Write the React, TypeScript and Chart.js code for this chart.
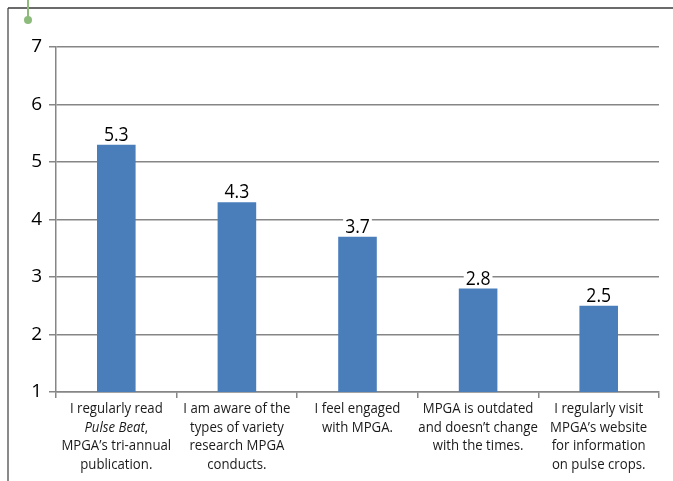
import React, { useEffect, useRef } from "react";
import { Chart, registerables } from "chart.js";

Chart.register(...registerables);

const categoryLines: string[][] = [
  ["I regularly read", "*Pulse Beat*,", "MPGA\u2019s tri-annual", "publication."],
  ["I am aware of the", "types of variety", "research MPGA", "conducts."],
  ["I feel engaged", "with MPGA."],
  ["MPGA is outdated", "and doesn\u2019t change", "with the times."],
  ["I regularly visit", "MPGA\u2019s website", "for information", "on pulse crops."],
];
const categories = ["Pulse Beat", "Variety research", "Engaged", "Outdated", "Website"];
const values = [5.3, 4.3, 3.7, 2.8, 2.5];
const yTicks = [1, 2, 3, 4, 5, 6, 7];

const FONT = "'Open Sans', 'Liberation Sans', sans-serif";
const SQUEEZE = 0.88;

const decorPlugin = {
  id: "decor",
  beforeDraw(chart: any) {
    const ctx = chart.ctx;
    ctx.save();
    ctx.strokeStyle = "#8a8a8a";
    ctx.lineWidth = 2;
    ctx.beginPath();
    ctx.moveTo(8, 8);
    ctx.lineTo(8, 481);
    ctx.stroke();
    ctx.strokeStyle = "#3a3a3a";
    ctx.lineWidth = 1.5;
    ctx.beginPath();
    ctx.moveTo(8, 8);
    ctx.lineTo(673, 8);
    ctx.stroke();
    ctx.strokeStyle = "#8dbb7c";
    ctx.lineWidth = 2;
    ctx.beginPath();
    ctx.moveTo(28, 0);
    ctx.lineTo(28, 17);
    ctx.stroke();
    ctx.fillStyle = "#8dbb7c";
    ctx.beginPath();
    ctx.arc(28, 20, 4, 0, Math.PI * 2);
    ctx.fill();
    ctx.restore();
  },
  afterDatasetsDraw(chart: any) {
    const ctx = chart.ctx;
    const meta = chart.getDatasetMeta(0);
    ctx.save();
    ctx.textBaseline = "alphabetic";
    meta.data.forEach((bar: any, i: number) => {
      const txt = String(values[i]);
      ctx.font = `20px ${FONT}`;
      const w = ctx.measureText(txt).width * SQUEEZE;
      ctx.fillStyle = "#ffffff";
      ctx.fillRect(bar.x - w / 2 - 2, bar.y - 20, w + 4, 17);
      ctx.save();
      ctx.translate(bar.x, bar.y - 4);
      ctx.scale(SQUEEZE, 1);
      ctx.textAlign = "center";
      ctx.fillStyle = "#000000";
      ctx.fillText(txt, 0, 0);
      ctx.restore();
    });
    const xs = chart.scales.x;
    const top = chart.chartArea.bottom;
    const size = 15;
    categoryLines.forEach((lines, i) => {
      const cx = xs.getPixelForValue(i);
      lines.forEach((line, j) => {
        const y = top + 21 + j * 18.5;
        ctx.save();
        ctx.translate(cx, y);
        ctx.scale(SQUEEZE, 1);
        ctx.fillStyle = "#1a1a1a";
        const m = line.match(/^\*(.*)\*(.*)$/);
        if (m) {
          ctx.font = `italic ${size}px ${FONT}`;
          const w1 = ctx.measureText(m[1]).width;
          ctx.font = `${size}px ${FONT}`;
          const w2 = ctx.measureText(m[2]).width;
          const x0 = -(w1 + w2) / 2;
          ctx.textAlign = "left";
          ctx.font = `italic ${size}px ${FONT}`;
          ctx.fillText(m[1], x0, 0);
          ctx.font = `${size}px ${FONT}`;
          ctx.fillText(m[2], x0 + w1, 0);
        } else {
          ctx.textAlign = "center";
          ctx.font = `${size}px ${FONT}`;
          ctx.fillText(line, 0, 0);
        }
        ctx.restore();
      });
    });
    ctx.restore();
  },
};

export default function App() {
  const ref = useRef<HTMLCanvasElement | null>(null);
  useEffect(() => {
    if (!ref.current) return;
    const chart = new Chart(ref.current, {
      type: "bar",
      data: {
        labels: categories,
        datasets: [
          {
            data: values,
            backgroundColor: "#4a7ebb",
            barPercentage: 0.32,
            categoryPercentage: 1,
          },
        ],
      },
      options: {
        responsive: false,
        animation: false,
        layout: { padding: { top: 47, right: 14, left: 0, bottom: 0 } },
        plugins: { legend: { display: false }, tooltip: { enabled: false } },
        scales: {
          x: {
            afterFit: (s: any) => {
              s.height = 89;
            },
            ticks: { display: false },
            grid: {
              offset: true,
              drawOnChartArea: false,
              drawTicks: true,
              tickLength: 6,
              color: "#868686",
              lineWidth: 1.5,
            },
            border: { color: "#868686", width: 1.5 },
          },
          y: {
            min: 1,
            max: 7,
            afterFit: (s: any) => {
              s.width = 56;
            },
            afterBuildTicks: (s: any) => {
              s.ticks = yTicks.map((v) => ({ value: v }));
            },
            ticks: {
              color: "#000",
              padding: 7,
              font: { family: FONT, size: 19 },
            },
            grid: { color: "#868686", lineWidth: 1.5, tickLength: 7 },
            border: { color: "#868686", width: 1.5 },
          },
        },
      },
      plugins: [decorPlugin],
    });
    return () => chart.destroy();
  }, []);
  return (
    <div style={{ position: "fixed", left: 0, top: 0, width: 673, height: 481, background: "#fff" }}>
      <canvas ref={ref} width={673} height={481} style={{ display: "block" }} />
    </div>
  );
}
